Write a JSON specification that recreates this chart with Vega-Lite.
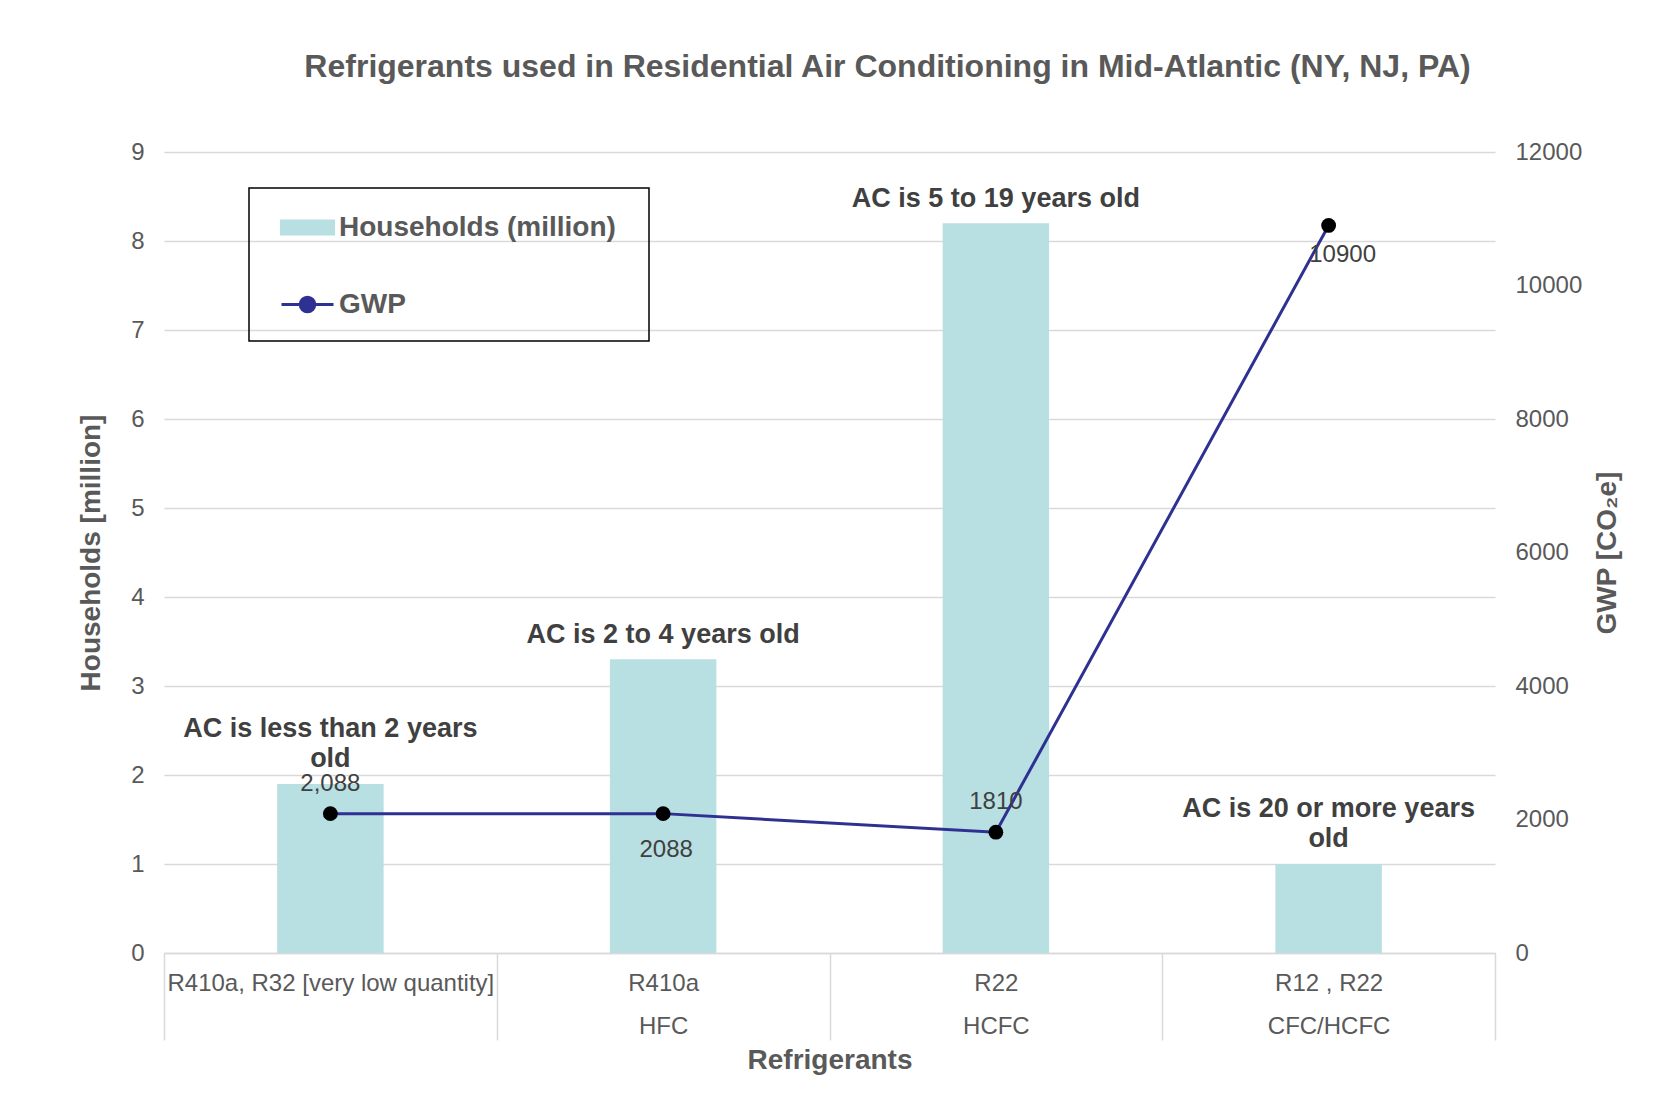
{
  "$schema": "https://vega.github.io/schema/vega-lite/v6.json",
  "autosize": {"type": "none"},
  "width": 1331,
  "height": 801,
  "padding": {"left": 164, "top": 152, "right": 166, "bottom": 142},
  "background": "white",
  "config": {"font": "Liberation Sans", "view": {"stroke": null}},
  "title": {
    "text": "Refrigerants used in Residential Air Conditioning in Mid-Atlantic (NY, NJ, PA)",
    "fontSize": 32, "fontWeight": "bold", "color": "#595959",
    "anchor": "middle", "frame": "group", "dx": 58, "offset": 56
  },
  "data": {
    "values": [
      {"category": "R410a, R32 [very low quantity]", "households": 1.9, "gwp": 2088, "gwp_label": "2,088", "age": "AC is less than 2 years\nold"},
      {"category": "R410a|HFC", "households": 3.3, "gwp": 2088, "gwp_label": "2088", "age": "AC is 2 to 4 years old"},
      {"category": "R22|HCFC", "households": 8.2, "gwp": 1810, "gwp_label": "1810", "age": "AC is 5 to 19 years old"},
      {"category": "R12 , R22|CFC/HCFC", "households": 1.0, "gwp": 10900, "gwp_label": "10900", "age": "AC is 20 or more years\nold"}
    ]
  },
  "encoding": {
    "x": {
      "field": "category", "type": "nominal", "sort": null,
      "scale": {"paddingInner": 0, "paddingOuter": 0},
      "axis": {
        "title": "Refrigerants", "labelExpr": "split(datum.label, '|')", "labelAngle": 0,
        "tickBand": "extent", "tickSize": 87, "tickColor": "#d9d9d9", "tickWidth": 1.5,
        "domainColor": "#d9d9d9", "domainWidth": 1.5,
        "labelPadding": -69, "labelBaseline": "top", "labelLineHeight": 43,
        "labelFontSize": 24, "labelColor": "#595959", "labelLimit": 500, "labelOverlap": false,
        "titleFontSize": 28, "titleFontWeight": "bold", "titleColor": "#595959", "titlePadding": 6
      }
    }
  },
  "layer": [
    {
      "layer": [
        {
          "mark": {"type": "bar", "width": {"band": 0.32}},
          "encoding": {
            "y": {
              "field": "households", "type": "quantitative",
              "scale": {"domain": [0, 9], "nice": false},
              "axis": {
                "title": "Households [million]", "values": [0, 1, 2, 3, 4, 5, 6, 7, 8, 9], "format": "d",
                "grid": true, "gridColor": "#d9d9d9", "gridWidth": 1.5,
                "domain": false, "ticks": false, "labelPadding": 20,
                "labelFontSize": 24, "labelColor": "#595959",
                "titleFontSize": 28, "titleFontWeight": "bold", "titleColor": "#595959", "titlePadding": 25
              }
            },
            "color": {
              "datum": "Households (million)", "type": "nominal",
              "scale": {"domain": ["Households (million)", "GWP"], "range": ["#b8dfe2", "#2e3192"]},
              "legend": {
                "orient": "none", "legendX": 85, "legendY": 36,
                "title": " ", "titleOrient": "bottom", "titleFontSize": 10, "titlePadding": 0,
                "strokeColor": "black", "padding": 12,
                "symbolOffset": 19, "symbolSize": 2704, "rowPadding": 35, "labelOffset": 4,
                "labelFontSize": 28, "labelFontWeight": "bold", "labelColor": "#595959", "labelLimit": 600,
                "labelExpr": "datum.label + '\u2800'",
                "encode": {
                  "legend": {"update": {"strokeWidth": {"value": 1.5}}},
                  "symbols": {
                    "update": {
                      "shape": {"signal": "datum.value === 'GWP' ? 'M-1,0H-0.28A0.28,0.28 0 1,1 0.28,0A0.28,0.28 0 1,1 -0.28,0M0.28,0H1' : 'M-1,-0.25H1V0.25H-1Z'"},
                      "fill": {"signal": "datum.value === 'GWP' ? 'black' : '#b8dfe2'"},
                      "stroke": {"signal": "datum.value === 'GWP' ? '#2e3192' : '#b8dfe2'"},
                      "strokeWidth": {"value": 3},
                      "opacity": {"value": 1},
                      "fillOpacity": {"value": 1}
                    }
                  }
                }
              }
            }
          }
        },
        {
          "transform": [{"filter": "datum.category === 'R410a|HFC' || datum.category === 'R22|HCFC'"}],
          "mark": {"type": "text", "fontSize": 27, "fontWeight": "bold", "color": "#404040", "baseline": "bottom", "dy": -10},
          "encoding": {
            "y": {"field": "households", "type": "quantitative"},
            "text": {"field": "age"}
          }
        },
        {
          "transform": [{"filter": "datum.category === 'R410a, R32 [very low quantity]' || datum.category === 'R12 , R22|CFC/HCFC'"}],
          "mark": {"type": "text", "fontSize": 27, "fontWeight": "bold", "color": "#404040", "baseline": "bottom", "dy": -41, "lineBreak": "\n", "lineHeight": 30},
          "encoding": {
            "y": {"field": "households", "type": "quantitative"},
            "text": {"field": "age"}
          }
        }
      ]
    },
    {
      "layer": [
        {
          "mark": {"type": "line", "strokeWidth": 3},
          "encoding": {
            "y": {
              "field": "gwp", "type": "quantitative",
              "scale": {"domain": [0, 12000], "nice": false},
              "axis": {
                "orient": "right", "title": "GWP [CO₂e]", "format": "d",
                "values": [0, 2000, 4000, 6000, 8000, 10000, 12000],
                "grid": false, "domain": false, "ticks": false, "labelPadding": 20,
                "labelFontSize": 24, "labelColor": "#595959",
                "titleFontSize": 28, "titleFontWeight": "bold", "titleColor": "#595959",
                "titleAngle": 270, "titleBaseline": "top", "titlePadding": 12
              }
            },
            "color": {"datum": "GWP", "type": "nominal"}
          }
        },
        {
          "mark": {"type": "point", "filled": true, "color": "black", "size": 220, "opacity": 1},
          "encoding": {"y": {"field": "gwp", "type": "quantitative"}}
        },
        {
          "transform": [{"filter": "datum.category === 'R410a, R32 [very low quantity]' || datum.category === 'R22|HCFC'"}],
          "mark": {"type": "text", "fontSize": 24, "color": "#404040", "baseline": "middle", "dy": -30},
          "encoding": {"y": {"field": "gwp", "type": "quantitative"}, "text": {"field": "gwp_label"}}
        },
        {
          "transform": [{"filter": "datum.category === 'R410a|HFC'"}],
          "mark": {"type": "text", "fontSize": 24, "color": "#404040", "baseline": "middle", "dy": 36, "dx": 3},
          "encoding": {"y": {"field": "gwp", "type": "quantitative"}, "text": {"field": "gwp_label"}}
        },
        {
          "transform": [{"filter": "datum.category === 'R12 , R22|CFC/HCFC'"}],
          "mark": {"type": "text", "fontSize": 24, "color": "#404040", "baseline": "middle", "dy": 30, "dx": 14},
          "encoding": {"y": {"field": "gwp", "type": "quantitative"}, "text": {"field": "gwp_label"}}
        }
      ]
    }
  ],
  "resolve": {"scale": {"y": "independent"}}
}
